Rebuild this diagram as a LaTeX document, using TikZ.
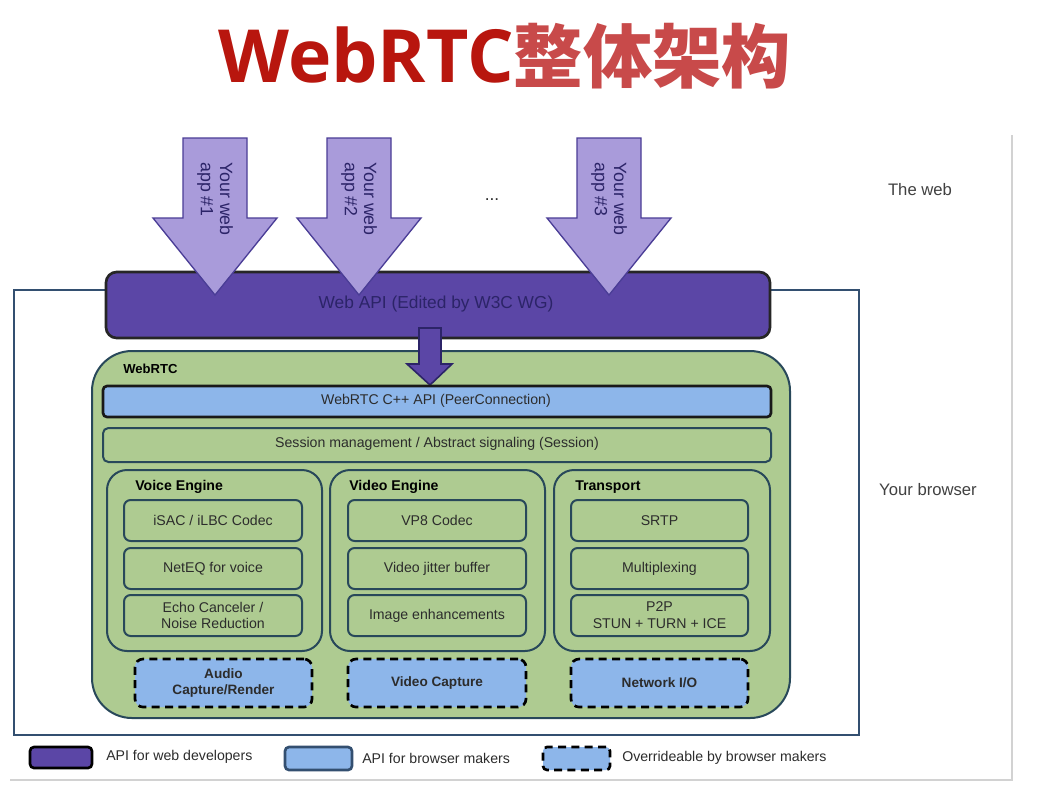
\documentclass[tikz,border=0pt]{standalone}
\usepackage{fontspec}
\setmainfont{Liberation Sans}
\newfontfamily\cjk{Noto Sans CJK SC}
\newfontfamily\titlelatin{Open Sans}
\usetikzlibrary{fit}
\definecolor{purp}{HTML}{5B46A6}
\definecolor{purptext}{HTML}{2C2468}
\definecolor{lpurp}{HTML}{A99BDA}
\definecolor{lpurpb}{HTML}{4A3D96}
\definecolor{greenc}{HTML}{AECB91}
\definecolor{teal}{HTML}{28485A}
\definecolor{lblue}{HTML}{8DB6EA}
\definecolor{redA}{HTML}{B8160E}
\definecolor{redB}{HTML}{C84A4A}
\definecolor{txt}{HTML}{2C2C2C}
\definecolor{frame}{HTML}{334F70}
\tikzset{
  fitbox/.style={inner sep=0pt, align=center, text=txt, font=\fontsize{10.6}{12.6}\selectfont},
  greenbox/.style={fitbox, draw=teal, fill=greenc, line width=1.5pt, rounded corners=5pt},
  bluebar/.style={fitbox, draw=black!90, fill=lblue, line width=2pt, rounded corners=3pt},
  engine/.style={fitbox, draw=teal, fill=greenc, line width=1.5pt, rounded corners=15pt},
  dashbox/.style={fitbox, draw=black, fill=lblue, line width=2pt, dash pattern=on 6pt off 4pt, rounded corners=6pt, font=\bfseries\fontsize{10.2}{12}\selectfont},
  bigarrow/.style={fill=lpurp, draw=lpurpb, line width=1pt, line join=miter},
  arrtext/.style={rotate=-90, align=left, text=purptext, font=\fontsize{13.3}{14.5}\selectfont, inner sep=0pt},
  side/.style={text=txt!90, font=\fontsize{12.5}{14}\selectfont},
  legtext/.style={anchor=west, text=txt, font=\fontsize{10.6}{12}\selectfont, inner sep=0pt},
  boldlabel/.style={anchor=west, text=black, font=\bfseries\fontsize{10.6}{12}\selectfont, inner sep=0pt},
}
\begin{document}
\begin{tikzpicture}[x=0.75pt,y=-0.75pt]
\useasboundingbox[fill=white] (0,0) rectangle (1038,801);
% outer screenshot frame
\draw[gray!35, line width=1.2pt] (1012,135) -- (1012,780) -- (10,780);
% title
\node (title) at (505,56) {\textcolor{redA}{\titlelatin\bfseries\fontsize{55}{60}\selectfont WebRTC}\textcolor{redB}{\cjk\bfseries\fontsize{52}{60}\selectfont 整体架构}};
% browser box
\node[draw=frame, line width=1.5pt, inner sep=0pt, fit={(14,290) (859,735)}] (browser) {};
\node[side] (theweb) at (920,190) {The web};
\node[side] (yourbrowser) at (928,490) {Your browser};
% Web API bar
\node[inner sep=0pt, draw=black!85, fill=purp, line width=2pt, rounded corners=8pt, fit={(106,272) (770,338)}] (webapi) {};
\node[text=purptext, font=\fontsize{13}{15}\selectfont] (webapitext) at (436,304) {Web API (Edited by W3C WG)};
% big arrows
\foreach \cx/\n in {215/1,359/2,609/3}{
  \filldraw[bigarrow] (\cx-32,138) -- (\cx+32,138) -- (\cx+32,218) -- (\cx+62,218) -- (\cx,295) -- (\cx-62,218) -- (\cx-32,218) -- cycle;
  \node[arrtext] (app\n) at (\cx,199) {Your web\\app \#\n};
}
\node[text=txt, font=\fontsize{13}{14}\selectfont] (dots) at (492,200) {...};
% WebRTC box
\node[inner sep=0pt, draw=teal, fill=greenc, line width=1.5pt, rounded corners=30pt, fit={(92,351) (790,718)}] (webrtc) {};
\node[boldlabel, font=\bfseries\fontsize{9.8}{11}\selectfont] (webrtclabel) at (123,369) {WebRTC};
% small arrow
\filldraw[fill=purp, draw=purptext, line width=1.2pt, line join=miter]
  (419,328) -- (441,328) -- (441,364) -- (452,364) -- (430,385) -- (407,364) -- (419,364) -- cycle;
% C++ API
\node[bluebar, fit={(103,386) (771,417)}] (cppapi) {};
\node[text=txt, font=\fontsize{10.6}{12}\selectfont] (cpptext) at (436,401) {WebRTC C++ API (PeerConnection)};
% Session
\node[greenbox, rounded corners=4pt, fit={(103,428) (771,462)}] (session) {};
\node[text=txt, font=\fontsize{10.6}{12}\selectfont] (sessiontext) at (437,444) {Session management / Abstract signaling (Session)};
% engines
\node[engine, fit={(107,470) (322,651)}] (voice) {};
\node[engine, fit={(330,470) (545,651)}] (video) {};
\node[engine, fit={(554,470) (770,651)}] (transport) {};
\node[boldlabel] (voicel) at (135,487) {Voice Engine};
\node[boldlabel] (videol) at (349,487) {Video Engine};
\node[boldlabel] (transl) at (575,487) {Transport};
% inner boxes
\node[greenbox, fit={(124,500) (302,541)}] (isac) {};
\node[fitbox] at (isac.center) {iSAC / iLBC Codec};
\node[greenbox, fit={(124,548) (302,589)}] (neteq) {};
\node[fitbox] at (neteq.center) {NetEQ for voice};
\node[greenbox, fit={(124,595) (302,636)}] (echo) {};
\node[fitbox] at (echo.center) {Echo Canceler /\\Noise Reduction};
\node[greenbox, fit={(348,500) (526,541)}] (vp8) {};
\node[fitbox] at (vp8.center) {VP8 Codec};
\node[greenbox, fit={(348,548) (526,589)}] (jitter) {};
\node[fitbox] at (jitter.center) {Video jitter buffer};
\node[greenbox, fit={(348,595) (526,636)}] (image) {};
\node[fitbox] at (image.center) {Image enhancements};
\node[greenbox, fit={(571,500) (748,541)}] (srtp) {};
\node[fitbox] at (srtp.center) {SRTP};
\node[greenbox, fit={(571,548) (748,589)}] (mux) {};
\node[fitbox] at (mux.center) {Multiplexing};
\node[greenbox, fit={(571,595) (748,636)}] (p2p) {};
\node[fitbox] at (p2p.center) {P2P\\STUN + TURN + ICE};
% dashed boxes
\node[dashbox, fit={(135,659) (312,707)}] (audiocap) {};
\node[fitbox, font=\bfseries\fontsize{10.2}{12}\selectfont] at (audiocap.center) {Audio\\Capture/Render};
\node[dashbox, fit={(348,659) (526,707)}] (videocap) {};
\node[fitbox, font=\bfseries\fontsize{10.2}{12}\selectfont] at (videocap.center) {Video Capture};
\node[dashbox, fit={(571,659) (748,707)}] (netio) {};
\node[fitbox, font=\bfseries\fontsize{10.2}{12}\selectfont] at (netio.center) {Network I/O};
% legend
\node[inner sep=0pt, draw=black, fill=purp, line width=2pt, rounded corners=3pt, fit={(30,747) (92,768)}] (leg1) {};
\node[legtext] (leg1t) at (106,757) {API for web developers};
\node[inner sep=0pt, draw=frame, fill=lblue, line width=2pt, rounded corners=3pt, fit={(285,747) (352,770)}] (leg2) {};
\node[legtext] (leg2t) at (362,758) {API for browser makers};
\node[inner sep=0pt, draw=black, fill=lblue, line width=2pt, dash pattern=on 6pt off 4pt, rounded corners=3pt, fit={(543,747) (610,770)}] (leg3) {};
\node[legtext] (leg3t) at (622,758) {Overrideable by browser makers};
\end{tikzpicture}
\end{document}
